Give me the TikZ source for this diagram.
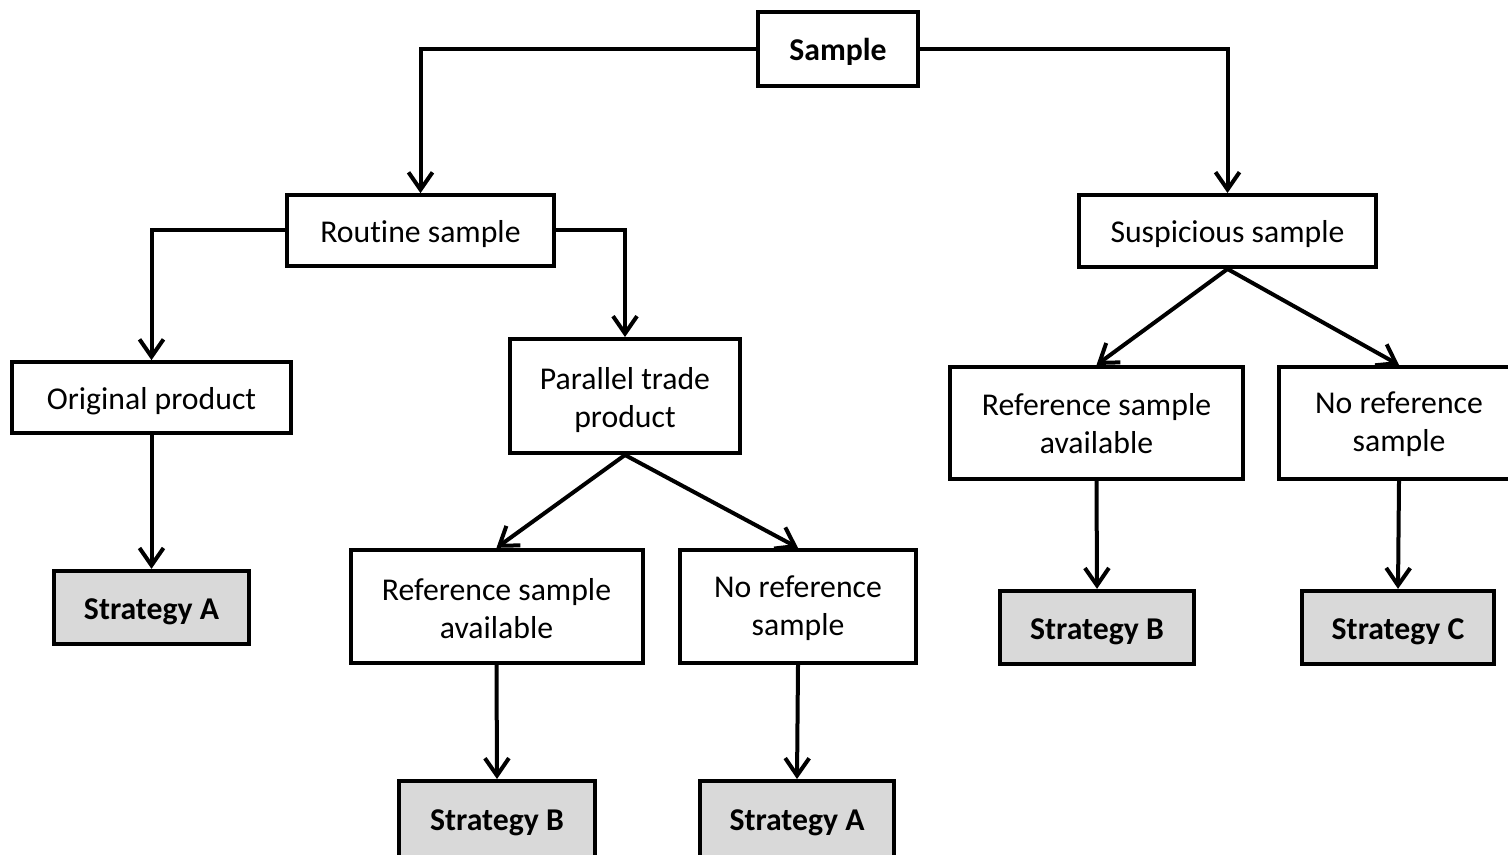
\documentclass[tikz,border=0pt]{standalone}
\usepackage{fontspec}
\setmainfont{Carlito}[Ligatures=NoCommon]
\usetikzlibrary{arrows.meta}
\definecolor{boxgray}{HTML}{D9D9D9}
\newcommand{\lowerstrut}[1][5pt]{\rule{0pt}{\dimexpr\fontcharht\font`l+#1\relax}}
\begin{document}
\begin{tikzpicture}[x=0.75pt,y=-0.75pt,
  box/.style={draw=black,line width=3pt,fill=white,align=center,inner sep=0pt,
    font=\fontsize{23.8}{28.5}\selectfont,execute at begin node=\lowerstrut},
  twoline/.style={box,execute at begin node={}},
  strat/.style={box,fill=boxgray,font=\fontsize{23.8}{28.5}\selectfont\bfseries},
  arr/.style={line width=3pt,-{Straight Barb[length=13pt,width=18pt,line width=3pt]}}]
\path[use as bounding box] (0,0) rectangle (1508,855);
\begin{scope}
\clip (0,0) rectangle (1508,855);
\node[box,font=\fontsize{23.8}{28.5}\selectfont\bfseries,minimum width=120pt,minimum height=55.5pt] (sample) at (838,49) {Sample};
\node[box,minimum width=200pt,minimum height=53pt] (routine) at (420.5,230.5) {Routine sample};
\node[box,minimum width=223pt,minimum height=54pt] (susp) at (1227.5,231) {Suspicious sample};
\node[box,minimum width=209pt,minimum height=53pt] (orig) at (151.5,397.5) {Original product};
\node[twoline,minimum width=172.5pt,minimum height=85.5pt] (par) at (625,396) {\lowerstrut[6pt]Parallel trade\\product};
\node[twoline,minimum width=219pt,minimum height=85pt] (refL) at (496.5,606.5) {\lowerstrut[3pt]Reference sample\\available};
\node[twoline,minimum width=177pt,minimum height=85pt] (noL) at (798,606.5) {\lowerstrut[3pt]No reference\\sample};
\node[twoline,minimum width=220pt,minimum height=84pt] (refR) at (1096.5,423) {\lowerstrut[1.5pt]Reference sample\\available};
\node[twoline,minimum width=180pt,minimum height=84pt] (noR) at (1399,423) {\lowerstrut[1.5pt]No reference\\sample};
\node[strat,minimum width=146pt,minimum height=55pt] (sA1) at (151.5,607.5) {Strategy A};
\node[strat,minimum width=147pt,minimum height=57pt] (sB1) at (497,819) {Strategy B};
\node[strat,minimum width=145.5pt,minimum height=57pt] (sA2) at (797,819) {Strategy A};
\node[strat,minimum width=145.5pt,minimum height=55pt] (sB2) at (1097,627.5) {Strategy B};
\node[strat,minimum width=144pt,minimum height=55pt] (sC) at (1398,627.5) {Strategy C};
\draw[arr] (sample.west) -| (routine.north);
\draw[arr] (sample.east) -| (susp.north);
\draw[arr] (routine.west) -| (orig.north);
\draw[arr] (routine.east) -| (par.north);
\draw[arr] (orig.south) -- (sA1.north);
\draw[arr] (par.south) -- (refL.north);
\draw[arr] (par.south) -- (noL.north);
\draw[arr] (refL.south) -- (sB1.north);
\draw[arr] (noL.south) -- (sA2.north);
\draw[arr] (susp.south) -- (refR.north);
\draw[arr] (susp.south) -- (noR.north);
\draw[arr] (refR.south) -- (sB2.north);
\draw[arr] (noR.south) -- (sC.north);
\end{scope}
\end{tikzpicture}
\end{document}
